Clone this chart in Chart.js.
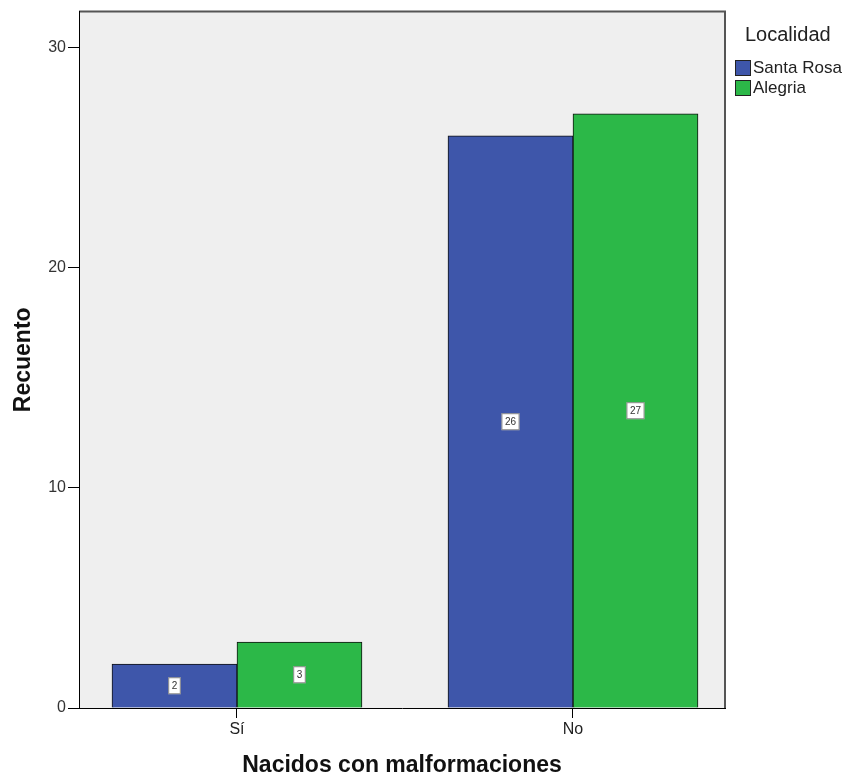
<!DOCTYPE html>
<html>
<head>
<meta charset="utf-8">
<title>Nacidos con malformaciones</title>
<script src="https://cdn.jsdelivr.net/npm/chart.js@4/dist/chart.umd.min.js"></script>
<style>
  body { margin: 0; background: #fff; font-family: "Liberation Sans", Arial, sans-serif; }
  #wrap { position: relative; width: 844px; height: 777px; }
  #legend { position: absolute; left: 735px; top: 22px; color: #222; }
  #legend .title { font-size: 20px; margin-left: 10px; line-height: 24px; margin-bottom: 12px; }
  #legend .item { position: relative; height: 20px; }
  #legend .sw { position: absolute; left: 0; top: 2px; width: 14px; height: 14px; border: 1px solid #222; }
  #legend .lbl { position: absolute; left: 18px; top: 0; font-size: 17px; line-height: 20px; white-space: nowrap; }
</style>
</head>
<body>
<div id="wrap">
  <canvas id="chart" width="844" height="777"></canvas>
  <div id="legend"></div>
</div>
<script>
const categories = ["Sí", "No"];
const seriesNames = ["Santa Rosa", "Alegria"];
const santaRosa = [2, 26];
const alegria = [3, 27];
const yTicks = [0, 10, 20, 30];

const colors = ["#3e56aa", "#2cb848"];

// legend (html)
document.getElementById("legend").innerHTML = '<div class="title">Localidad</div>' +
  seriesNames.map((n, i) =>
    `<div class="item"><span class="sw" style="background:${colors[i]}"></span><span class="lbl">${n}</span></div>`
  ).join("");

const plotBackground = {
  id: "plotBackground",
  beforeDraw(chart) {
    const { ctx, chartArea: a } = chart;
    ctx.save();
    ctx.fillStyle = "#fff";
    ctx.fillRect(0, 0, chart.width, chart.height);
    ctx.fillStyle = "#efefef";
    ctx.fillRect(a.left, a.top, a.right - a.left, a.bottom - a.top);
    ctx.strokeStyle = "#555";
    ctx.lineWidth = 2;
    ctx.beginPath();
    ctx.moveTo(a.left, a.top);
    ctx.lineTo(a.right, a.top);
    ctx.lineTo(a.right, a.bottom);
    ctx.stroke();
    ctx.restore();
  }
};

const valueLabels = {
  id: "valueLabels",
  afterDatasetsDraw(chart) {
    const ctx = chart.ctx;
    ctx.save();
    ctx.font = "10px 'Liberation Sans', Arial, sans-serif";
    ctx.textAlign = "center";
    ctx.textBaseline = "middle";
    chart.data.datasets.forEach((ds, di) => {
      chart.getDatasetMeta(di).data.forEach((bar, i) => {
        const txt = String(ds.data[i].y);
        const cx = bar.x;
        const cy = (bar.y + bar.base) / 2;
        const w = ctx.measureText(txt).width + 7;
        const h = 17;
        ctx.fillStyle = "#fff";
        ctx.fillRect(cx - w / 2, cy - h / 2, w, h);
        ctx.strokeStyle = "rgba(60,60,60,0.6)";
        ctx.lineWidth = 1;
        ctx.strokeRect(cx - w / 2 + 0.5, cy - h / 2 + 0.5, w - 1, h - 1);
        ctx.fillStyle = "#333";
        ctx.fillText(txt, cx, cy + 0.5);
      });
    });
    ctx.restore();
  }
};

Chart.defaults.font.family = "'Liberation Sans', Arial, sans-serif";

new Chart(document.getElementById("chart"), {
  type: "bar",
  data: {
    datasets: [
      {
        label: seriesNames[0],
        data: categories.map((c, i) => ({ x: i, y: santaRosa[i] })),
        backgroundColor: colors[0],
        borderColor: "#111",
        borderWidth: 1
      },
      {
        label: seriesNames[1],
        data: categories.map((c, i) => ({ x: i, y: alegria[i] })),
        backgroundColor: colors[1],
        borderColor: "#111",
        borderWidth: 1
      }
    ]
  },
  options: {
    responsive: false,
    animation: false,
    barThickness: 125,
    layout: { padding: { top: 11, right: 119, left: 0, bottom: 0 } },
    plugins: {
      legend: { display: false },
      tooltip: { enabled: false }
    },
    scales: {
      x: {
        type: "linear",
        offset: false,
        min: -0.4702,
        max: 1.4524,
        afterBuildTicks: s => { s.ticks = categories.map((c, i) => ({ value: i })); },
        afterFit: s => { s.height = 69; },
        ticks: {
          callback: v => categories[v],
          color: "#222",
          font: { size: 16 },
          padding: 2,
          maxRotation: 0
        },
        grid: { offset: false, drawOnChartArea: false, tickLength: 10, color: "#000" },
        border: { color: "#000", width: 1 },
        title: {
          display: true,
          text: "Nacidos con malformaciones",
          color: "#111",
          font: { size: 23, weight: "bold", lineHeight: 1 },
          padding: { top: 0, bottom: 0 }
        }
      },
      y: {
        min: 0,
        max: 31.65,
        afterBuildTicks: s => { s.ticks = yTicks.map(v => ({ value: v })); },
        afterFit: s => { s.width = 79; },
        ticks: { color: "#333", font: { size: 16 }, padding: 2 },
        grid: { drawOnChartArea: false, tickLength: 11, color: "#000" },
        border: { color: "#000", width: 1 },
        title: {
          display: true,
          text: "Recuento",
          color: "#111",
          font: { size: 23, weight: "bold", lineHeight: 1 },
          padding: { top: 12, bottom: 0 }
        }
      }
    }
  },
  plugins: [plotBackground, valueLabels]
});
</script>
</body>
</html>
